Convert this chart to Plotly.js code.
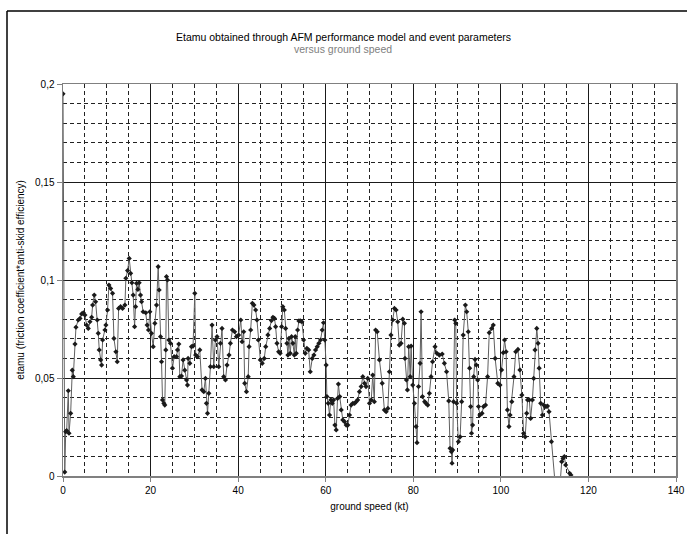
<!DOCTYPE html>
<html>
<head>
<meta charset="utf-8">
<script src="https://cdn.plot.ly/plotly-3.0.1.min.js"></script>
<style>
html,body{margin:0;padding:0;background:#fff;}
#chart{width:687px;height:534px;}
</style>
</head>
<body>
<div id="chart"></div>
<script>
// ground speed (kt)
const groundSpeed = [
0,0.4,0.62,0.84,1.21,1.37,1.75,2.12,2.35,2.74,2.96,3.49,3.88,4.26,4.64,5.0,5.4,5.77,6.16,6.54,
6.77,7.14,7.45,7.83,8.05,8.28,8.6,8.82,9.05,9.58,9.8,10.18,10.49,10.87,11.32,11.63,12.08,12.39,12.7,13.15,
13.6,14.14,14.36,14.75,15.12,15.44,15.73,16.03,16.35,16.58,16.8,17.1,17.4,17.7,17.94,18.3,18.9,19.22,19.53,19.84,
20.2,20.6,20.98,21.36,21.74,21.96,22.27,22.5,22.73,23.03,23.25,23.48,23.63,23.87,24.17,24.55,25.0,25.38,25.92,26.15,
26.45,26.68,27.06,27.43,27.8,28.2,28.43,28.57,28.96,29.34,29.7,30.1,30.3,30.7,31.24,31.76,32.15,32.53,32.76,33.0,
33.3,33.67,34.04,34.43,34.8,35.18,35.57,35.95,36.32,36.7,37.1,37.46,37.92,38.23,38.7,39.2,39.6,40.1,40.6,40.9,
41.27,41.5,41.9,42.3,42.5,42.86,43.25,43.6,44.0,44.3,44.6,45.07,45.5,45.97,46.3,46.8,47.2,47.6,47.95,48.3,
48.56,48.87,49.25,49.6,49.93,50.2,50.55,50.84,51.14,51.37,51.6,51.9,52.2,52.5,52.83,53.05,53.28,53.58,53.88,54.2,
54.56,54.95,55.33,55.7,56.1,56.47,56.93,57.3,57.68,58.06,58.44,58.82,59.2,59.5,59.8,60.1,60.27,60.57,60.87,61.17,
61.49,61.8,62.1,62.4,62.7,62.9,63.2,63.54,63.9,64.3,64.68,65.05,65.43,65.8,66.2,66.6,66.96,67.3,67.7,68.1,
68.47,68.86,69.2,69.6,70.0,70.4,70.74,71.1,71.4,71.76,72.27,72.9,73.4,73.8,74.2,74.55,74.9,75.3,75.7,76.07,
76.45,76.8,77.2,77.6,77.97,78.1,78.43,78.66,78.95,79.3,79.5,79.87,80.26,80.64,80.85,81.2,81.55,81.78,82.1,82.6,
82.9,83.3,83.68,84.06,84.4,84.97,85.4,85.95,86.6,87.1,87.6,88.1,88.4,88.7,88.85,89.0,89.2,89.45,89.7,89.9,
90.3,90.7,91.05,91.4,91.9,92.2,92.56,92.87,93.1,93.3,93.55,93.8,94.1,94.4,94.7,94.9,95.2,95.7,96.05,96.5,
96.97,97.35,97.9,98.27,98.7,99.3,99.8,100.17,100.55,100.85,101.2,101.5,101.85,102.1,102.5,103.0,103.4,103.9,104.35,104.8,
105.2,105.55,105.9,106.1,106.5,106.8,107.2,107.5,107.8,108.2,108.5,108.75,109.1,109.5,109.8,110.3,110.65,111.0,111.55,113.0,
113.9,114.2,114.5,114.8,115.7,116.0
];
// etamu (friction coefficient * anti-skid efficiency)
const etamu = [
0.195,0.002,0.0226,0.0231,0.0435,0.0218,0.032,0.054,0.0507,0.0673,0.0759,0.0796,0.0804,0.0827,0.0833,0.0821,0.077,0.0753,0.0787,0.081,
0.0872,0.0923,0.0889,0.0796,0.0728,0.0643,0.0592,0.0566,0.0694,0.0745,0.077,0.0847,0.0974,0.0957,0.0932,0.0702,0.0634,0.0583,0.0855,0.0864,
0.0855,0.0872,0.1009,0.1048,0.111,0.1034,0.0986,0.0923,0.0762,0.0864,0.0983,0.0952,0.0986,0.0923,0.0889,0.0838,0.0833,0.077,0.0745,0.0838,
0.0728,0.066,0.0779,0.0872,0.1068,0.0949,0.0711,0.0583,0.0388,0.0371,0.0362,0.0643,0.1017,0.1,0.0694,0.0677,0.055,0.0609,0.0609,0.0643,
0.0673,0.0507,0.051,0.0592,0.054,0.049,0.0464,0.06,0.0575,0.066,0.0663,0.0932,0.0617,0.0609,0.0643,0.0439,0.043,0.0498,0.0371,0.032,
0.0422,0.0558,0.077,0.0558,0.0694,0.0711,0.0558,0.0677,0.0753,0.0507,0.049,0.0566,0.0617,0.0677,0.0745,0.0736,0.0711,0.0719,0.0796,0.0685,
0.0736,0.0473,0.043,0.0507,0.066,0.0745,0.0881,0.0872,0.0847,0.0796,0.0694,0.0592,0.0575,0.06,0.066,0.072,0.0753,0.0793,0.081,0.0804,
0.0762,0.0677,0.0634,0.0626,0.0762,0.0864,0.0847,0.0753,0.0677,0.0617,0.0702,0.0626,0.0711,0.0677,0.0617,0.0711,0.0626,0.0745,0.0791,0.0791,
0.0787,0.0694,0.0626,0.0651,0.0643,0.0532,0.06,0.0617,0.0643,0.066,0.0677,0.0694,0.0745,0.0782,0.0694,0.0566,0.0405,0.0371,0.0311,0.0388,
0.0371,0.0388,0.026,0.0235,0.0396,0.0469,0.0405,0.0337,0.0286,0.0277,0.026,0.026,0.0311,0.0362,0.0371,0.0371,0.0379,0.0388,0.043,0.0456,
0.0507,0.0473,0.0456,0.0498,0.0371,0.0388,0.0515,0.0379,0.0745,0.0736,0.0592,0.0473,0.0337,0.0328,0.0345,0.0532,0.0719,0.0796,0.0855,0.0847,
0.0787,0.0668,0.0677,0.08,0.0779,0.06,0.049,0.0439,0.066,0.0507,0.0663,0.0464,0.0371,0.0252,0.017,0.0456,0.0575,0.0838,0.0405,0.0379,
0.0371,0.0362,0.0422,0.0507,0.0583,0.066,0.0626,0.0617,0.0622,0.0575,0.0532,0.0383,0.0141,0.0124,0.0065,0.0133,0.0379,0.0796,0.0779,0.0371,
0.0175,0.02,0.0379,0.0719,0.0872,0.0838,0.0736,0.055,0.0354,0.0218,0.026,0.0507,0.0595,0.0566,0.049,0.0354,0.0311,0.032,0.0354,0.0362,
0.0507,0.0731,0.0753,0.077,0.06,0.0473,0.0464,0.0541,0.0629,0.0694,0.0634,0.0337,0.0252,0.0311,0.0379,0.0507,0.0634,0.0646,0.0541,0.0413,
0.0218,0.02,0.032,0.0388,0.0388,0.0294,0.0388,0.0498,0.0643,0.0753,0.0677,0.055,0.0371,0.0311,0.0362,0.0354,0.0357,0.0328,0.0175,-0.02,
0.0073,0.009,0.0099,0.0056,0.0014,0.0005
];
const chartTitle = "Etamu obtained through AFM performance model and event parameters";
const chartSubtitle = "versus ground speed";
const xTitle = "ground speed (kt)";
const yTitle = "etamu (friction coefficient*anti-skid efficiency)";

const FONT = "Liberation Sans, Arial, sans-serif";

const trace = {
  type: "scatter",
  mode: "lines+markers",
  x: groundSpeed,
  y: etamu,
  line: {color: "#606060", width: 1},
  marker: {symbol: "diamond", size: 4, color: "#1a1a1a"},
  cliponaxis: true,
  showlegend: false,
  hoverinfo: "x+y"
};

const layout = {
  width: 687,
  height: 534,
  margin: {l: 63, r: 11, t: 84, b: 58},
  paper_bgcolor: "#fff",
  plot_bgcolor: "#fff",
  separators: ",.",
  font: {family: FONT, size: 10, color: "#000"},
  title: {
    text: chartTitle,
    font: {family: FONT, size: 10.5, color: "#000"},
    xref: "container", x: 0.5, xanchor: "center",
    yref: "container", y: 1 - 34/534, yanchor: "top"
  },
  annotations: [{
    text: chartSubtitle,
    xref: "paper", yref: "paper",
    x: (343 - 63) / 613, y: (476 - 49) / 392,
    xanchor: "center", yanchor: "middle",
    showarrow: false,
    font: {family: FONT, size: 10.5, color: "#808080"}
  }],
  xaxis: {
    range: [0, 140],
    dtick: 20, tick0: 0,
    showline: true, mirror: true, linecolor: "#808080", linewidth: 1.5,
    showgrid: true, gridcolor: "#1a1a1a", gridwidth: 1,
    zeroline: false,
    ticks: "outside", ticklen: 4, tickcolor: "#808080",
    tickfont: {family: FONT, size: 10, color: "#000"},
    minor: {dtick: 5, showgrid: true, gridcolor: "#222", gridwidth: 1, griddash: "4px,3px", ticks: ""},
    title: {text: xTitle, font: {family: FONT, size: 10, color: "#000"}, standoff: 8}
  },
  yaxis: {
    range: [0, 0.2],
    dtick: 0.05, tick0: 0,
    showline: true, mirror: true, linecolor: "#808080", linewidth: 1.5,
    showgrid: true, gridcolor: "#1a1a1a", gridwidth: 1,
    zeroline: false,
    ticks: "outside", ticklen: 5, tickcolor: "#808080",
    tickfont: {family: FONT, size: 10, color: "#000"},
    minor: {dtick: 0.01, showgrid: true, gridcolor: "#222", gridwidth: 1, griddash: "4px,3px", ticks: ""},
    title: {text: yTitle, font: {family: FONT, size: 10, color: "#000"}, standoff: 8}
  },
  shapes: [
    {type: "line", xref: "paper", yref: "paper",
     x0: (7 - 63)/613, x1: (7 - 63)/613, y0: (476 - 11)/392, y1: (476 - 540)/392,
     line: {color: "#000", width: 1.5}, layer: "above"},
    {type: "line", xref: "paper", yref: "paper",
     x0: (7 - 63)/613, x1: (700 - 63)/613, y0: (476 - 11)/392, y1: (476 - 11)/392,
     line: {color: "#000", width: 1.5}, layer: "above"}
  ]
};

Plotly.newPlot("chart", [trace], layout, {displayModeBar: false, staticPlot: true});
</script>
</body>
</html>
